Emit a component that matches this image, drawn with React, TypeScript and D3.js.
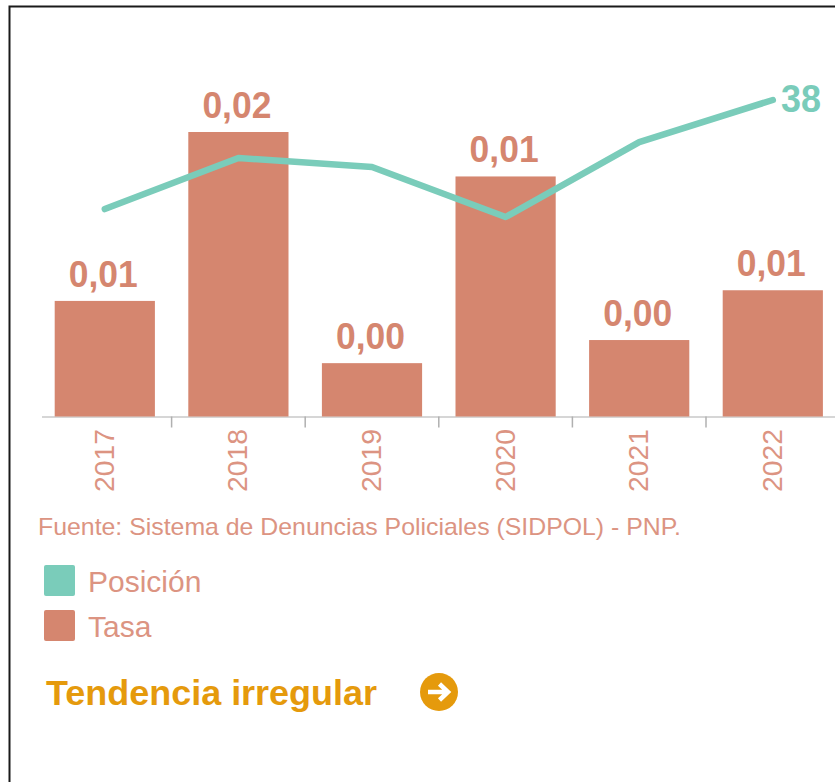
import React from 'react';
import * as d3 from 'd3';

const years = ['2017', '2018', '2019', '2020', '2021', '2022'];
const tasa = [0.0065, 0.016, 0.003, 0.0135, 0.0043, 0.0071];
const posicion = [14.7, 25.6, 23.7, 13, 29, 38];
const legendItems = ['Posición', 'Tasa'];

const width = 835;
const height = 782;
const baseline = 416.5;
const font = '"Liberation Sans", Arial, sans-serif';
const salmon = '#d5866f';
const salmonText = '#dc9482';
const teal = '#7accba';
const orange = '#e59a0c';

const x = d3.scaleBand().domain(years).range([38, 839.6]).paddingInner(0.25).paddingOuter(0.125);
const yTasa = d3.scaleLinear().domain([0, 0.016]).range([baseline, 132]);
const yPos = d3.scaleLinear().domain([13, 38]).range([217, 100]);
const colorScale = d3.scaleOrdinal<string, string>().domain(legendItems).range([teal, salmon]);

const comma = d3.formatLocale({ decimal: ',', thousands: '.', grouping: [3], currency: ['', ''] }).format('.2f');

const App = () => {
  const cx = (y: string) => (x(y) as number) + x.bandwidth() / 2;
  const line = d3
    .line<number>()
    .x((_, i) => cx(years[i]))
    .y(d => yPos(d));
  const ticks = years.slice(1).map(y => (x(y) as number) - (x.step() - x.bandwidth()) / 2);

  return (
    <svg
      width={width}
      height={height}
      style={{ position: 'absolute', left: 0, top: 0, background: '#fff', fontFamily: font }}
    >
      {/* screenshot border, top and left only */}
      <path d={`M${width},6.5H9.5V${height}`} fill="none" stroke="#1a1a1a" strokeWidth={2} />

      <line x1={42} x2={width} y1={baseline + 0.5} y2={baseline + 0.5} stroke="#d6d6d6" strokeWidth={2} />
      {ticks.map(t => (
        <line key={t} x1={t} x2={t} y1={baseline} y2={baseline + 11} stroke="#b0b0b0" strokeWidth={1.5} />
      ))}

      {years.map((y, i) => (
        <g key={y}>
          <rect
            x={x(y)}
            y={yTasa(tasa[i])}
            width={x.bandwidth()}
            height={baseline - yTasa(tasa[i])}
            fill={salmon}
          />
          <text
            x={cx(y) - 1.5}
            y={yTasa(tasa[i]) - 14}
            textAnchor="middle"
            fontSize={37}
            fontWeight="bold"
            fill={salmon}
            textLength={69}
            lengthAdjust="spacingAndGlyphs"
          >
            {comma(tasa[i])}
          </text>
          <text
            transform={`translate(${cx(y) + 9},429) rotate(-90)`}
            textAnchor="end"
            fontSize={28}
            fill={salmonText}
            textLength={63}
            lengthAdjust="spacingAndGlyphs"
          >
            {y}
          </text>
        </g>
      ))}

      <path
        d={line(posicion) as string}
        fill="none"
        stroke={teal}
        strokeWidth={6.5}
        strokeLinecap="round"
        strokeLinejoin="round"
      />
      <text x={781} y={112} fontSize={38} fontWeight="bold" fill={teal} textLength={40} lengthAdjust="spacingAndGlyphs">
        {posicion[posicion.length - 1]}
      </text>

      <text x={38} y={535} fontSize={24} fill={salmonText} textLength={643} lengthAdjust="spacingAndGlyphs">
        Fuente: Sistema de Denuncias Policiales (SIDPOL) - PNP.
      </text>

      {legendItems.map((d, i) => (
        <g key={d} transform={`translate(44,${565 + i * 45})`}>
          <rect width={31} height={31} rx={2} fill={colorScale(d)} />
          <text x={44} y={27} fontSize={30} fill={salmonText}>
            {d}
          </text>
        </g>
      ))}

      <text x={46} y={705} fontSize={35} fontWeight="bold" fill={orange} textLength={331} lengthAdjust="spacingAndGlyphs">
        Tendencia irregular
      </text>
      <circle cx={439} cy={692} r={19} fill={orange} />
      <path
        d="M428,692H447M439.5,684L448,692L439.5,700"
        fill="none"
        stroke="#fff"
        strokeWidth={4.5}
      />
    </svg>
  );
};

export default App;
